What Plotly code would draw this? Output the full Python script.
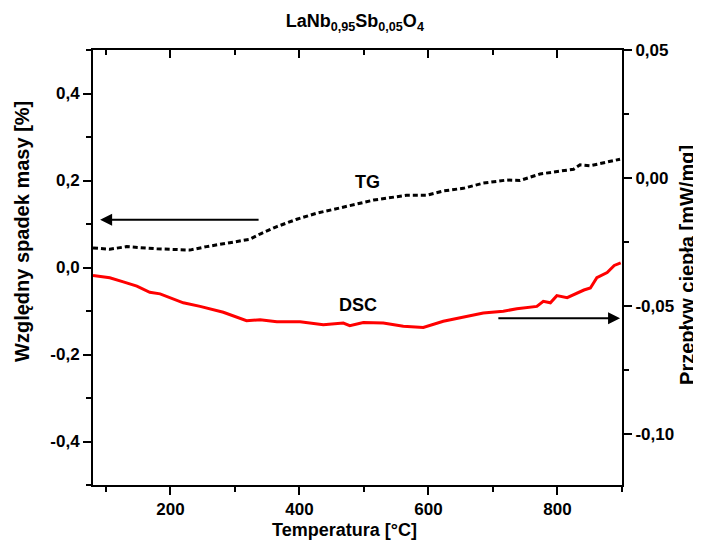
import plotly.graph_objects as go

# TG curve (left axis, %)
tg_temp = [80, 106, 132, 179, 230, 256, 292, 323, 339, 365, 396, 427, 463, 494, 515, 566,
           597, 623, 654, 685, 721, 742, 773, 825, 835, 851, 897]
tg_mass = [0.045, 0.042, 0.048, 0.043, 0.040, 0.048, 0.057, 0.065, 0.077, 0.094, 0.111, 0.125,
           0.137, 0.148, 0.155, 0.166, 0.166, 0.176, 0.182, 0.194, 0.201, 0.200, 0.215, 0.226,
           0.236, 0.234, 0.249]

# DSC curve (right axis, mW/mg)
dsc_temp = [80, 106, 127, 148, 168, 184, 220, 246, 282, 318, 339, 365, 401, 437, 468, 478, 499,
            530, 561, 592, 623, 659, 685, 716, 737, 768, 778, 789, 799, 815, 841, 851, 861, 877,
            888, 898]
dsc_flow = [-0.0381, -0.0390, -0.0406, -0.0423, -0.0447, -0.0453, -0.0488, -0.0502, -0.0525,
            -0.0558, -0.0554, -0.0562, -0.0562, -0.0574, -0.0567, -0.0577, -0.0565, -0.0567,
            -0.0580, -0.0584, -0.0560, -0.0540, -0.0528, -0.0521, -0.0511, -0.0502, -0.0482,
            -0.0488, -0.0460, -0.0468, -0.0438, -0.0430, -0.0390, -0.0370, -0.0342, -0.0332]

x_ticks = [200, 400, 600, 800]
x_labels = ["200", "400", "600", "800"]
x_minor = [100, 300, 500, 700, 900]
left_ticks = [-0.4, -0.2, 0.0, 0.2, 0.4]
left_labels = ["-0,4", "-0,2", "0,0", "0,2", "0,4"]
left_minor = [-0.5, -0.3, -0.1, 0.1, 0.3, 0.5]
right_ticks = [-0.10, -0.05, 0.0, 0.05]
right_labels = ["-0,10", "-0,05", "0,00", "0,05"]
right_minor = [-0.075, -0.025, 0.025]

FONT = "Liberation Sans, Arial, sans-serif"
bold = lambda lst: ["<b>%s</b>" % s for s in lst]

fig = go.Figure()
fig.add_trace(go.Scatter(x=tg_temp, y=tg_mass, mode="lines", name="TG",
                         line=dict(color="black", width=3, dash="5px,3px"),
                         xaxis="x", yaxis="y", showlegend=False))
fig.add_trace(go.Scatter(x=dsc_temp, y=dsc_flow, mode="lines", name="DSC",
                         line=dict(color="#ff0000", width=3),
                         xaxis="x", yaxis="y2", showlegend=False))
# helper trace for the top mirror axis
fig.add_trace(go.Scatter(x=[80], y=[None], mode="lines", xaxis="x2", yaxis="y",
                         showlegend=False, hoverinfo="skip"))

axcommon = dict(showgrid=False, zeroline=False, showline=True, linecolor="black", linewidth=2,
                tickcolor="black", tickwidth=2, ticklen=8, automargin=False,
                tickfont=dict(family=FONT, size=17, color="black"))
minor_out = dict(ticks="outside", ticklen=5, tickwidth=2, tickcolor="black")

fig.update_layout(
    width=701, height=547,
    margin=dict(l=85, r=87, t=42, b=70, autoexpand=False),
    paper_bgcolor="white", plot_bgcolor="white",
    font=dict(family=FONT, color="black"),
    title=dict(text="<b>LaNb<sub>0,95</sub>Sb<sub>0,05</sub>O<sub>4</sub></b>",
               xref="paper", x=0.495, xanchor="center", y=0.976, yanchor="middle",
               font=dict(family=FONT, size=18, color="black")),
    xaxis=dict(range=[80, 900], tickmode="array", tickvals=x_ticks, ticktext=bold(x_labels),
               ticks="outside",
               minor=dict(tickmode="array", tickvals=x_minor, **minor_out),
               **axcommon),
    xaxis2=dict(range=[80, 900], overlaying="x", side="top", tickmode="array",
                tickvals=x_ticks, ticks="inside", showticklabels=False,
                minor=dict(tickmode="array", tickvals=x_minor, ticks="inside", ticklen=5,
                           tickwidth=2, tickcolor="black"),
                **axcommon),
    yaxis=dict(range=[-0.5, 0.5], tickmode="array", tickvals=left_ticks,
               ticktext=bold(left_labels), ticks="outside",
               minor=dict(tickmode="array", tickvals=left_minor, **minor_out),
               **axcommon),
    yaxis2=dict(range=[-0.12, 0.05], overlaying="y", side="right", anchor="x",
                tickmode="array", tickvals=right_ticks, ticktext=bold(right_labels),
                ticks="outside",
                minor=dict(tickmode="array", tickvals=right_minor, **minor_out),
                **axcommon),
)

# axis titles
fig.add_annotation(x=0.476, y=-0.104, xref="paper", yref="paper", showarrow=False,
                   text="<b>Temperatura [°C]</b>", xanchor="center", yanchor="middle",
                   font=dict(family=FONT, size=18, color="black"))
fig.add_annotation(x=-0.134, y=0.582, xref="paper", yref="paper", showarrow=False,
                   text="<b>Względny spadek masy [%]</b>", textangle=-90,
                   xanchor="center", yanchor="middle",
                   font=dict(family=FONT, size=20, color="black"))
fig.add_annotation(x=1.123, y=0.506, xref="paper", yref="paper", showarrow=False,
                   text="<b>Przepływ ciepła [mW/mg]</b>", textangle=-90,
                   xanchor="center", yanchor="middle",
                   font=dict(family=FONT, size=20, color="black"))

# arrows
fig.add_annotation(x=91, y=0.11, ax=339, ay=0.11, xref="x", yref="y", axref="x", ayref="y",
                   text="", showarrow=True, arrowhead=2, arrowsize=1.2, arrowwidth=2,
                   arrowcolor="black")
fig.add_annotation(x=897, y=-0.0548, ax=706, ay=-0.0548, xref="x", yref="y2", axref="x",
                   ayref="y2", text="", showarrow=True, arrowhead=2, arrowsize=1.2,
                   arrowwidth=2, arrowcolor="black")
# labels
fig.add_annotation(x=505, y=0.197, xref="x", yref="y", text="<b>TG</b>", showarrow=False,
                   font=dict(family=FONT, size=18, color="black"))
fig.add_annotation(x=490, y=-0.086, xref="x", yref="y", text="<b>DSC</b>", showarrow=False,
                   font=dict(family=FONT, size=18, color="black"))

fig.write_html("out.html")
